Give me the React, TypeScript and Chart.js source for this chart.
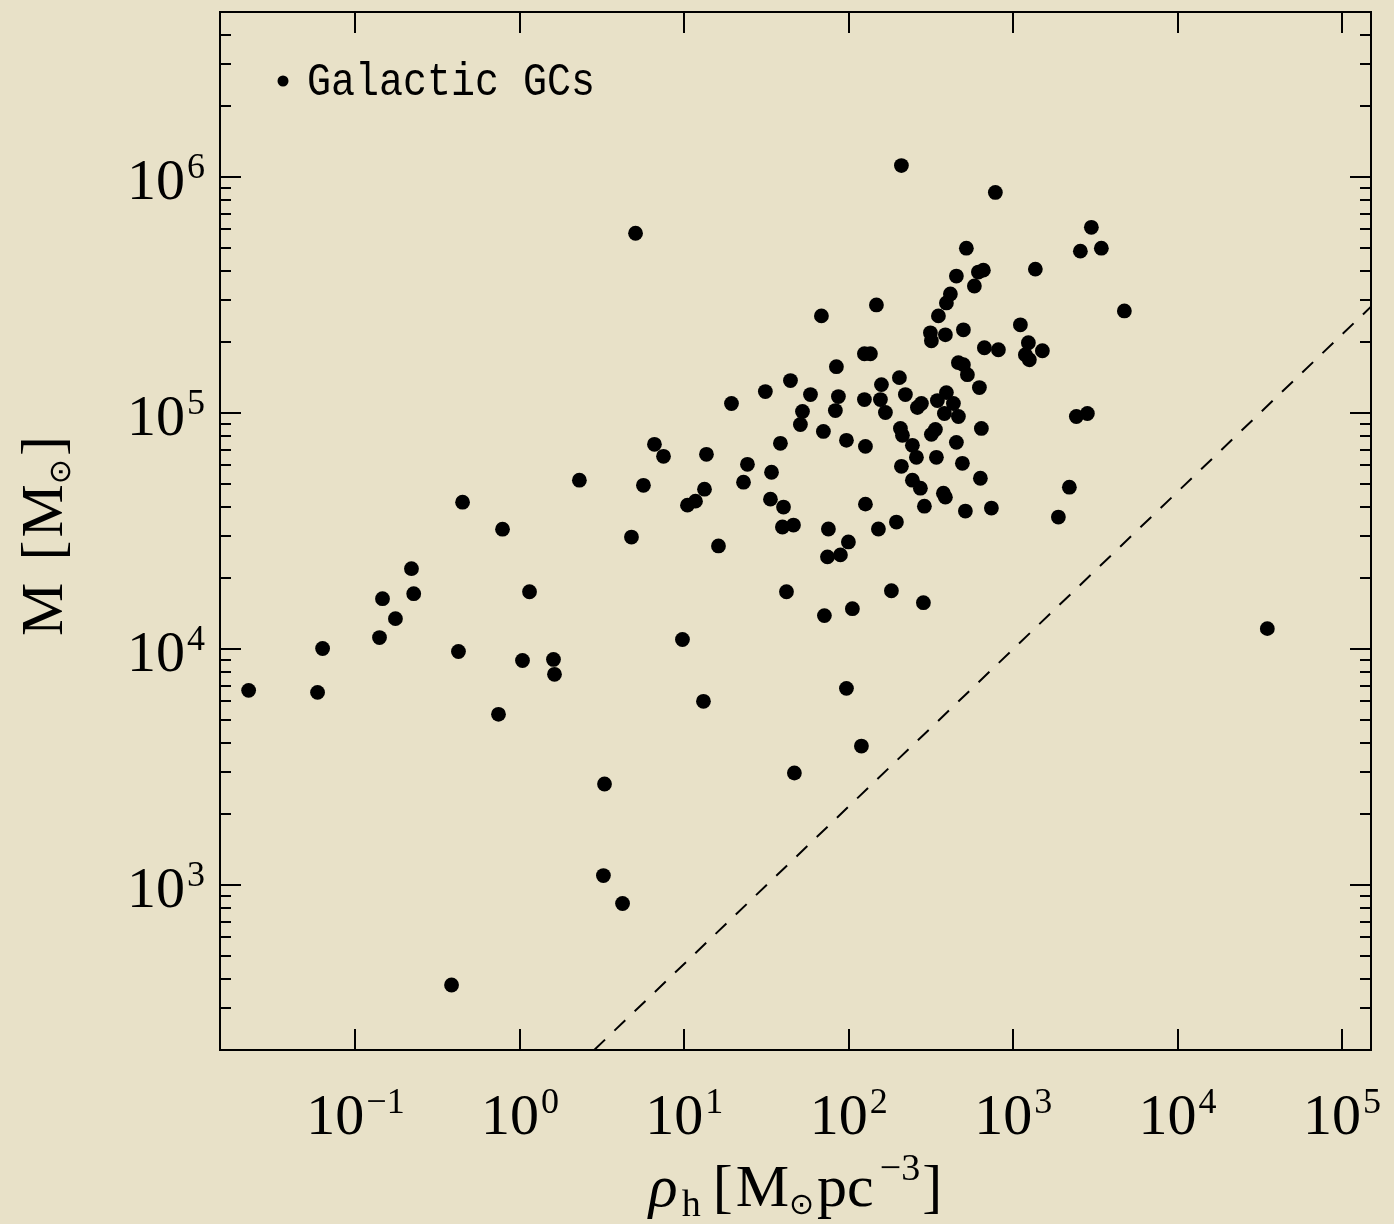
import React, { useEffect, useRef } from "react";
import { Chart, registerables } from "chart.js";

Chart.register(...registerables);

// Half-mass density rho_h [Msun pc^-3] of Galactic globular clusters
const densityValues = [
  2.30, 5.64, 0.448, 0.784, 4.77, 0.219, 0.226, 0.146, 0.175, 1.144,
  0.140, 0.0631, 0.423, 1.037, 1.60, 1.623, 0.0224, 0.0588, 0.741, 3.27,
  3.22, 4.21, 0.384, 5.05, 50.8, 70.1, 96.8, 126.3, 6.58, 7.47,
  13.63, 38.4, 24.2, 22.9, 33.9, 13.26, 11.69, 10.45, 33.4, 40.1,
  39.5, 46.1, 75.2, 99.5, 74.2, 89.0, 16.13, 41.8, 71.1, 105.2,
  9.74, 13.07, 96.8, 119.4, 46.7, 209, 147.3, 68.2, 124.5, 135.4,
  84.1, 203.2, 44.2, 158.0, 31.1, 58.5, 86.5, 124.5, 155.8, 221,
  276.6, 261.5, 19.35, 52.3, 82.9, 167.1, 206.1, 779, 2988, 2562,
  3437, 519, 1364, 658.7, 614.2, 451.4, 580.7, 415, 392.5, 4744,
  351, 1106, 313.7, 318.1, 387, 497.9, 1237, 1505, 1186, 1254,
  668, 812.8, 464.3, 497.9, 526.6, 623, 392.5, 345.9, 432.9, 381.6,
  464.3, 640.5, 336.4, 2422, 2826, 212.1, 318.1, 243.8, 257.9, 341.2,
  451.4, 491, 209, 631.7, 243.8, 272.7, 376.3, 387, 126.3, 288.4,
  512, 737, 2196, 1883, 194.9, 151.5, 181.7, 284.4, 35120,
];

// Mass M [Msun]
const massValues = [
  51900, 49400, 41900, 32200, 29800, 21900, 17150, 16340, 13450, 17480,
  11180, 10050, 9760, 8940, 9030, 7810, 6680, 6550, 5290, 2680,
  1097, 835, 377, 577500, 89400, 83500, 76600, 72200, 73650, 65540,
  66800, 74360, 60600, 50900, 56100, 47550, 42320, 40700, 43150, 39940,
  32880, 33520, 32250, 28420, 24570, 25050, 27330, 17480, 13850, 14820,
  10970, 6005, 6812, 3878, 2983, 1118000, 287000, 257900, 178200, 178200,
  157100, 141200, 137200, 131900, 123200, 119700, 117400, 114000, 114000, 119700,
  109700, 105500, 109700, 101500, 102400, 100500, 86000, 860000, 612000, 485000,
  499300, 499300, 407000, 403000, 395400, 380400, 345100, 319300, 292600, 270700,
  257900, 236300, 218600, 202200, 214400, 225100, 198400, 183500, 176500, 168100,
  189000, 185300, 163400, 160200, 145300, 128100, 122000, 112900, 109700, 99500,
  96650, 86000, 85200, 96650, 99500, 80400, 81170, 72930, 64900, 64900,
  75080, 61200, 59460, 52910, 51900, 48000, 45740, 44000, 41100, 40300,
  38400, 39540, 48500, 36240, 34510, 32250, 17650, 15710, 12200,
];

// Dashed limit line end points
const limitDensity = [2.83, 1.5e5];
const limitMass = [200, 2.82e5];

// Axis ranges and tick labels (powers of ten)
const xRange = [0.015, 1.5e5];
const yRange = [200, 5e6];
const xTickExponents = [-1, 0, 1, 2, 3, 4, 5];
const yTickExponents = [3, 4, 5, 6];
const yMinorDecades = [2, 3, 4, 5, 6];
const minorMultipliers = [2, 3, 4, 5, 6, 7, 8, 9];

const legendLabel = "Galactic GCs";

const BG = "rgb(232,225,200)";
const SERIF = '"Liberation Serif", "DejaVu Serif", serif';
const MONO = '"Liberation Mono", "DejaVu Sans Mono", monospace';
const SYMBOL = '"DejaVu Sans", "DejaVu Serif", sans-serif';

type Seg = { t: string; size: number; dy?: number; font?: string; style?: string; gap?: number };

function segFont(s: Seg) {
  return `${s.style ? s.style + " " : ""}${s.size}px ${s.font || SERIF}`;
}

function drawSegments(ctx: CanvasRenderingContext2D, segs: Seg[], cx: number, baseline: number) {
  ctx.textAlign = "left";
  ctx.textBaseline = "alphabetic";
  const widths = segs.map((s) => {
    ctx.font = segFont(s);
    return ctx.measureText(s.t).width + (s.gap || 0);
  });
  const total = widths.reduce((a, b) => a + b, 0);
  let x = cx - total / 2;
  segs.forEach((s, i) => {
    ctx.font = segFont(s);
    ctx.fillText(s.t, x, baseline + (s.dy || 0));
    x += widths[i];
  });
}

function drawPower(ctx: CanvasRenderingContext2D, exp: number, x: number, baseline: number, align: "center" | "right") {
  const main = "10";
  const sup = exp < 0 ? "\u2212" + Math.abs(exp) : String(exp);
  ctx.textAlign = "left";
  ctx.textBaseline = "alphabetic";
  ctx.font = `58px ${SERIF}`;
  const w1 = ctx.measureText(main).width;
  ctx.font = `36px ${SERIF}`;
  const w2 = ctx.measureText(sup).width;
  const gap = 2;
  const total = w1 + gap + w2;
  const start = align === "center" ? x - total / 2 : x - total;
  ctx.font = `58px ${SERIF}`;
  ctx.fillText(main, start, baseline);
  ctx.font = `36px ${SERIF}`;
  ctx.fillText(sup, start + w1 + gap, baseline - 21);
}

const framePlugin = {
  id: "framePlugin",
  beforeDraw(chart: any) {
    const ctx = chart.ctx as CanvasRenderingContext2D;
    ctx.save();
    ctx.fillStyle = BG;
    ctx.fillRect(0, 0, chart.width, chart.height);
    ctx.restore();
  },
  afterDraw(chart: any) {
    const ctx = chart.ctx as CanvasRenderingContext2D;
    const { left, right, top, bottom } = chart.chartArea;
    const xs = chart.scales.x;
    const ys = chart.scales.y;
    ctx.save();
    ctx.strokeStyle = "#000";
    ctx.fillStyle = "#000";
    ctx.lineWidth = 2;
    ctx.strokeRect(left, top, right - left, bottom - top);

    const major = 21;
    const minor = 11;
    ctx.beginPath();
    xTickExponents.forEach((e) => {
      const px = Math.round(xs.getPixelForValue(Math.pow(10, e)));
      ctx.moveTo(px, bottom);
      ctx.lineTo(px, bottom - major);
      ctx.moveTo(px, top);
      ctx.lineTo(px, top + major);
    });
    yTickExponents.forEach((e) => {
      const py = Math.round(ys.getPixelForValue(Math.pow(10, e)));
      ctx.moveTo(left, py);
      ctx.lineTo(left + major, py);
      ctx.moveTo(right, py);
      ctx.lineTo(right - major, py);
    });
    yMinorDecades.forEach((d) => {
      minorMultipliers.forEach((m) => {
        const v = m * Math.pow(10, d);
        if (v <= yRange[0] || v >= yRange[1]) return;
        const py = Math.round(ys.getPixelForValue(v));
        ctx.moveTo(left, py);
        ctx.lineTo(left + minor, py);
        ctx.moveTo(right, py);
        ctx.lineTo(right - minor, py);
      });
    });
    ctx.stroke();

    // tick labels
    xTickExponents.forEach((e) => {
      const px = xs.getPixelForValue(Math.pow(10, e));
      drawPower(ctx, e, px, bottom + 84, "center");
    });
    yTickExponents.forEach((e) => {
      const py = ys.getPixelForValue(Math.pow(10, e));
      drawPower(ctx, e, 205, py + 22, "right");
    });

    // x title
    const xSegs: Seg[] = [
      { t: "\u03C1", size: 60, style: "italic", gap: 4 },
      { t: "h", size: 38, dy: 10, gap: 12 },
      { t: "[", size: 60, gap: 3 },
      { t: "M", size: 60 },
      { t: "\u2299", size: 30, dy: 8, font: SYMBOL, gap: 3 },
      { t: "pc", size: 60, gap: 6 },
      { t: "\u22123", size: 38, dy: -26, gap: 2 },
      { t: "]", size: 60 },
    ];
    drawSegments(ctx, xSegs, (left + right) / 2, 1206);

    // y title (rotated)
    ctx.save();
    ctx.translate(62, (top + bottom) / 2 + 5);
    ctx.rotate(-Math.PI / 2);
    const ySegs: Seg[] = [
      { t: "M", size: 60, gap: 22 },
      { t: "[", size: 60, gap: 3 },
      { t: "M", size: 60 },
      { t: "\u2299", size: 30, dy: 8, font: SYMBOL, gap: 3 },
      { t: "]", size: 60 },
    ];
    drawSegments(ctx, ySegs, 0, 0);
    ctx.restore();

    // legend
    ctx.beginPath();
    ctx.arc(283, 81, 5.5, 0, Math.PI * 2);
    ctx.fill();
    ctx.save();
    ctx.translate(307, 95);
    ctx.scale(1, 1.15);
    ctx.font = `40px ${MONO}`;
    ctx.textAlign = "left";
    ctx.textBaseline = "alphabetic";
    ctx.fillText(legendLabel, 0, 0);
    ctx.restore();

    ctx.restore();
  },
};

export default function App() {
  const canvasRef = useRef<HTMLCanvasElement | null>(null);

  useEffect(() => {
    document.body.style.margin = "0";
    document.body.style.overflow = "hidden";
    document.body.style.background = BG;
    const canvas = canvasRef.current;
    if (!canvas) return;
    const chart = new Chart(canvas, {
      type: "scatter",
      data: {
        datasets: [
          {
            label: legendLabel,
            data: densityValues.map((x, i) => ({ x, y: massValues[i] })),
            backgroundColor: "#000",
            borderColor: "#000",
            borderWidth: 0,
            pointRadius: 7.4,
            pointHoverRadius: 7.4,
          },
          {
            type: "line",
            label: "limit",
            data: limitDensity.map((x, i) => ({ x, y: limitMass[i] })),
            borderColor: "#000",
            borderWidth: 2,
            borderDash: [15, 13],
            pointRadius: 0,
            showLine: true,
            fill: false,
          } as any,
        ],
      },
      options: {
        animation: false,
        responsive: false,
        devicePixelRatio: 1,
        events: [],
        layout: { padding: { left: 220, right: 23, top: 12, bottom: 174 } },
        scales: {
          x: { type: "logarithmic", min: xRange[0], max: xRange[1], display: false },
          y: { type: "logarithmic", min: yRange[0], max: yRange[1], display: false },
        },
        plugins: { legend: { display: false }, tooltip: { enabled: false } },
      },
      plugins: [framePlugin],
    });
    return () => chart.destroy();
  }, []);

  return (
    <div style={{ width: 1394, height: 1224, background: BG }}>
      <canvas ref={canvasRef} width={1394} height={1224} style={{ display: "block" }} />
    </div>
  );
}
